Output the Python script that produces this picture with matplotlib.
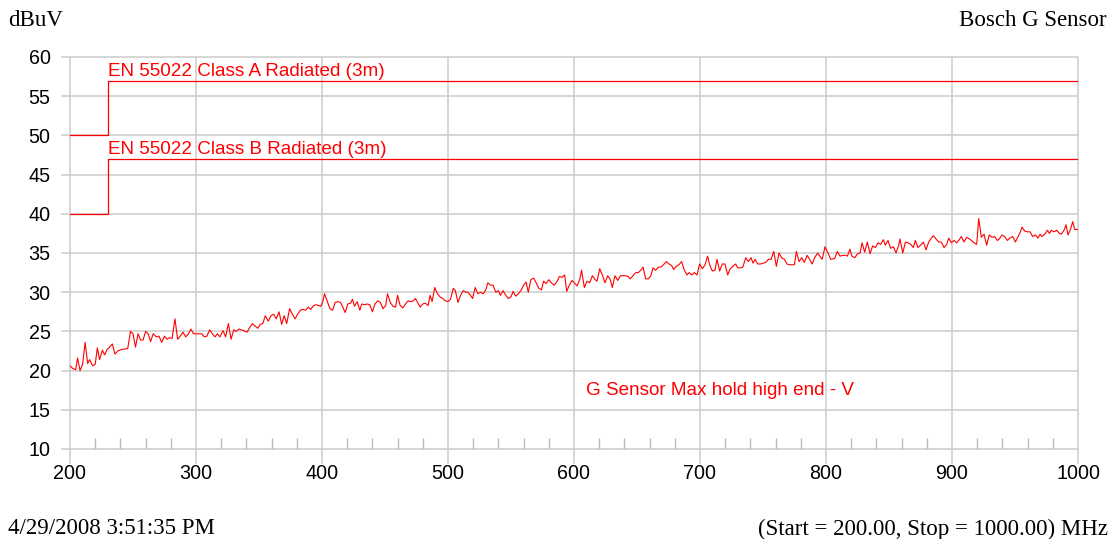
import numpy as np
import matplotlib
matplotlib.use('Agg')
import matplotlib.pyplot as plt

freq_a = [200, 202, 204.5, 206, 208, 210, 212, 214, 215.6, 218, 220, 221.7, 223.5, 225.7,
          227.5, 229.4, 231.5, 233.6, 235.7, 237.8, 241, 245.8, 248, 250, 252, 254, 256,
          258, 260, 262, 264, 266, 268.5, 270.6, 272.8, 275, 277, 279, 281, 283.3, 285.4,
          287.5, 289.7, 291.8, 294, 296, 298, 300.3, 302.4, 304.5, 306.6, 308.7, 310.8,
          313, 315, 317, 319, 321.4, 323.5, 325.7, 327.8, 330, 332, 334, 336, 338, 340.5,
          342.6, 344.7, 346.8, 349, 351, 353, 355, 357.4, 359.5, 361.6, 363.7, 365.9, 368,
          370, 372, 374.3, 376.5, 378.6, 380.7, 382.8, 385, 387, 389, 391, 393.4, 395.5]
level_a = [20.6, 20.3, 20.1, 21.6, 20.0, 20.8, 23.6, 20.9, 21.4, 20.6, 20.8, 22.9, 21.4, 22.6,
           22.0, 22.7, 23.0, 23.4, 22.1, 22.5, 22.7, 22.8, 25.0, 24.7, 23.0, 24.7, 23.9,
           23.9, 25.0, 24.7, 23.7, 24.7, 24.3, 24.4, 23.6, 24.4, 24.0, 24.2, 24.1, 26.6, 24.0,
           24.4, 24.9, 24.3, 24.7, 25.3, 24.7, 24.7, 24.7, 24.7, 24.3, 24.4, 25.2,
           24.7, 24.3, 24.7, 24.3, 25.1, 24.3, 26.0, 24.0, 25.2, 25.0, 25.3, 25.2, 25.1, 24.9,
           25.5, 26.0, 25.7, 25.4, 25.9, 26.0, 27.0, 26.3, 27.0, 27.2, 26.6, 27.5, 25.9,
           27.0, 26.0, 27.9, 27.2, 26.6, 27.2, 27.7, 27.8, 27.7, 28.1, 27.8, 28.3, 28.4]

freq_b = [399, 400.5, 402, 404, 406.3, 408.4, 410.5, 412.6, 414.7, 416.8, 418.4, 420.5,
          422.6, 424.2, 425.8, 427.9, 430, 431.6, 433.7, 435.8, 437.9, 440, 442, 444.2,
          446.3, 448.4, 450.5, 452, 454.2, 456.3, 458.4, 460, 462, 464.2, 466.3, 468.4,
          470.5, 472.6, 474.2, 475.8, 477.9, 480, 482, 484.2, 485.8, 487.4, 489.5, 491.6,
          493.7, 495.8, 497.9, 500, 502, 504.2, 505.8, 507.9, 510, 512, 514.2, 515.8, 517.9,
          519.5, 521.6, 523.7, 525.8, 527.9, 530, 531.6, 533.7, 535.8, 537.9, 540, 541.6,
          543.7, 545.8, 547.9, 550, 551.6, 553.7, 555.8, 557.9, 560, 562, 563.7, 565.8,
          567.9, 570, 572, 574.2, 575.8, 577.9, 580, 582, 584.2, 586.3, 588.4, 590.5,
          592.6, 594.2, 596.3, 598.4]
level_b = [28.2, 28.7, 29.8, 28.9, 27.9, 27.7, 28.7, 28.8, 28.7, 28.0, 27.4, 28.5,
           28.6, 29.1, 28.2, 28.8, 27.7, 28.5, 28.4, 28.5, 28.4, 27.5, 28.5, 28.9,
           28.7, 27.9, 28.3, 29.8, 28.7, 28.2, 28.1, 29.6, 28.3, 28.0, 28.5, 28.9,
           28.8, 28.9, 29.2, 28.7, 28.1, 28.5, 28.6, 28.3, 29.6, 28.8, 30.6, 29.8,
           29.4, 29.2, 28.9, 28.8, 29.1, 30.5, 30.2, 28.7, 29.6, 30.2, 30.0, 30.0, 29.6,
           29.2, 30.6, 29.8, 30.0, 29.8, 30.3, 31.2, 30.9, 30.9, 30.0, 30.2, 29.6,
           30.2, 29.6, 29.2, 29.4, 30.1, 29.5, 29.8, 30.2, 30.9, 31.3, 30.0, 31.6,
           31.8, 31.2, 30.5, 30.3, 31.4, 31.1, 31.6, 31.2, 30.9, 31.3, 32.0, 31.9,
           32.2, 30.1, 30.9, 31.5]

freq_c = [600.8, 602.4, 604.5, 606, 608.2, 610.3, 612.4, 614.6, 616.7, 618.3, 620.4, 622.5,
          624.6, 626.7, 628.8, 630.4, 632.5, 634.7, 636.8, 638.9, 641, 643, 644.7, 646.8,
          649, 651, 653, 654.8, 656.9, 659, 661, 662.7, 664.8, 667, 669, 671, 673.3, 675.4,
          677.5, 679, 681.2, 683.3, 685.4, 687.6, 689.7, 691.3, 693.4, 695.5, 697.6, 699.7,
          701.9, 704, 706, 707.7, 709.8, 711.9, 713.5, 715.6, 717.7, 719.8, 722, 724, 726.2,
          728.3, 729.9, 732, 734, 736.3, 738.4, 740.5, 742.1, 743.7, 745.8, 748, 750, 752.2,
          754.3, 756.4, 758.5, 760.6, 762.7, 764.8, 767, 769, 771, 773.3, 774.9, 776.5,
          778.6, 780.7, 782.8, 785, 787, 789, 791.3, 793.4, 795.5, 797, 799.2]
level_c = [31.1, 30.8, 31.6, 32.8, 30.6, 31.4, 31.2, 32.1, 31.6, 31.4, 33.0, 32.2,
           31.2, 32.1, 31.6, 30.6, 32.1, 31.5, 32.1, 32.1, 32.1, 32.0, 31.7, 32.1,
           32.5, 32.5, 32.8, 33.2, 31.7, 31.7, 32.1, 33.1, 32.8, 33.2, 33.2, 33.5, 33.9, 33.6,
           33.4, 32.9, 33.3, 33.5, 33.9, 32.8, 32.2, 32.5, 32.2, 32.5, 32.2, 33.6,
           33.0, 33.5, 34.6, 33.5, 32.7, 32.8, 34.2, 32.7, 33.6, 33.6, 32.2, 33.0, 33.3,
           33.6, 33.1, 33.1, 33.2, 34.4, 33.9, 34.4, 33.7, 34.2, 33.6, 33.6, 33.7, 33.8,
           34.2, 34.2, 35.2, 33.3, 35.0, 34.4, 34.2, 33.6, 33.5, 33.5, 33.5, 35.2,
           33.9, 34.4, 33.8, 34.7, 34.2, 33.6, 34.5, 35.0, 34.5, 34.2, 35.8]

freq_d = [801.6, 803.7, 806.9, 809, 811.1, 813.2, 815.4, 817, 819, 820.6, 822.8, 825, 827,
          828.6, 830.7, 832.8, 835, 837, 839.2, 841.3, 843.4, 845.5, 847.1, 849.2, 851.3,
          853.5, 855.6, 857.7, 858.7, 860.9, 863, 865.1, 867.2, 869.3, 870.9, 873, 875.1,
          877.3, 879.4, 881.5, 883.6, 885.2, 887.3, 889.4, 891.5, 893.7, 895.8, 897.4, 899.5,
          901.6, 903.7, 905.8, 907.4, 909.5, 911.7, 913.8, 915.4, 917.5, 919.6, 921.2, 923.3,
          925.4, 927.5, 929.6, 931.8, 933.9, 936, 937.6, 939.7, 941.8, 943.9, 946, 948.2,
          950.3, 952.4, 954, 955.6, 957.7, 959.8, 962, 964, 966.2, 968.3, 969.9, 971.4,
          973.6, 975.7, 977.3, 978.9, 981, 983.1, 985.2, 986.8, 988.9, 990.5, 992.1, 994.2,
          995.8, 997.4, 999.5, 1000]
level_d = [35.0, 34.2, 34.3, 35.2, 34.6, 34.7, 34.7, 34.6, 35.5, 34.6, 34.4, 34.9, 35.0,
           36.3, 35.1, 36.4, 34.9, 35.9, 35.7, 36.3, 36.1, 36.7, 36.0, 36.6, 35.6,
           35.8, 35.0, 36.0, 36.8, 35.0, 36.4, 36.3, 36.1, 35.7, 36.6, 35.7, 36.0,
           36.4, 35.4, 36.4, 36.9, 37.2, 36.8, 36.4, 36.4, 35.7, 36.1, 36.9, 36.3,
           36.6, 36.3, 36.7, 37.1, 36.4, 37.0, 36.8, 36.6, 36.3, 36.1, 39.4, 37.0,
           37.4, 36.0, 37.3, 37.0, 37.1, 36.6, 36.8, 37.3, 37.1, 36.6, 36.9, 37.1,
           36.4, 37.1, 37.6, 38.3, 37.8, 37.7, 37.7, 37.1, 37.3, 36.9, 37.4, 37.1,
           37.4, 37.9, 37.5, 37.9, 37.7, 37.9, 37.5, 37.4, 37.9, 38.6, 37.3, 38.1,
           39.0, 38.0, 38.0, 38.0]

# Limit lines (EN 55022, 3 m)
limit_freq = [200, 230, 230, 1000]
limit_a = [50, 50, 57, 57]
limit_b = [40, 40, 47, 47]

xticks = [200, 300, 400, 500, 600, 700, 800, 900, 1000]
yticks = [10, 15, 20, 25, 30, 35, 40, 45, 50, 55, 60]
minor_x = [f for f in range(220, 1000, 20) if f % 100 != 0]

freq = freq_a + freq_b + freq_c + freq_d
level = level_a + level_b + level_c + level_d

W, H = 1115, 539
fig = plt.figure(figsize=(W / 100, H / 100), dpi=100)
ax = fig.add_axes([70 / W, 1 - 449 / H, (1078 - 70) / W, (449 - 57) / H])
ax.set_xlim(200, 1000)
ax.set_ylim(10, 60)
for s in ax.spines.values():
    s.set_visible(False)

gcol = '#cccccc'
ax.vlines(xticks, 8.1, 60, colors=gcol, lw=1.1, clip_on=False, zorder=1)
ax.hlines(yticks, 192.5, 1000, colors=gcol, lw=1.1, clip_on=False, zorder=1)
ax.vlines(minor_x, 10, 11.45, colors='#bbbbbb', lw=1.0, zorder=1)

red = '#ff0000'
ax.plot(limit_freq, limit_a, color=red, lw=0.9, zorder=3)
ax.plot(limit_freq, limit_b, color=red, lw=0.9, zorder=3)
ax.plot(freq, level, color=red, lw=0.8, zorder=3)

lab = dict(color=red, fontsize=13.6, family='Liberation Sans')
ax.text(230, 57.1, 'EN 55022 Class A Radiated (3m)', va='bottom', ha='left', **lab)
ax.text(230, 47.1, 'EN 55022 Class B Radiated (3m)', va='bottom', ha='left', **lab)
ax.text(609.5, 17.4, 'G Sensor Max hold high end - V', va='center', ha='left', **lab)

ax.set_xticks(xticks)
ax.set_yticks(yticks)
ax.tick_params(length=0, labelsize=14.2)
ax.tick_params(axis='x', pad=11)
ax.tick_params(axis='y', pad=14)
for t in ax.get_xticklabels() + ax.get_yticklabels():
    t.set_family('Liberation Sans')

serif = dict(family='Liberation Serif', fontsize=16.5, color='black')
fig.text(8 / W, 1 - 20 / H, 'dBuV', ha='left', va='center', **serif)
fig.text(1107 / W, 1 - 20 / H, 'Bosch G Sensor', ha='right', va='center', **serif)
fig.text(8 / W, 1 - 529 / H, '4/29/2008 3:51:35 PM', ha='left', va='center', **serif)
fig.text(1108 / W, 1 - 529 / H, '(Start = 200.00, Stop = 1000.00) MHz', ha='right', va='center', **serif)

fig.savefig('out.png', dpi=100)
